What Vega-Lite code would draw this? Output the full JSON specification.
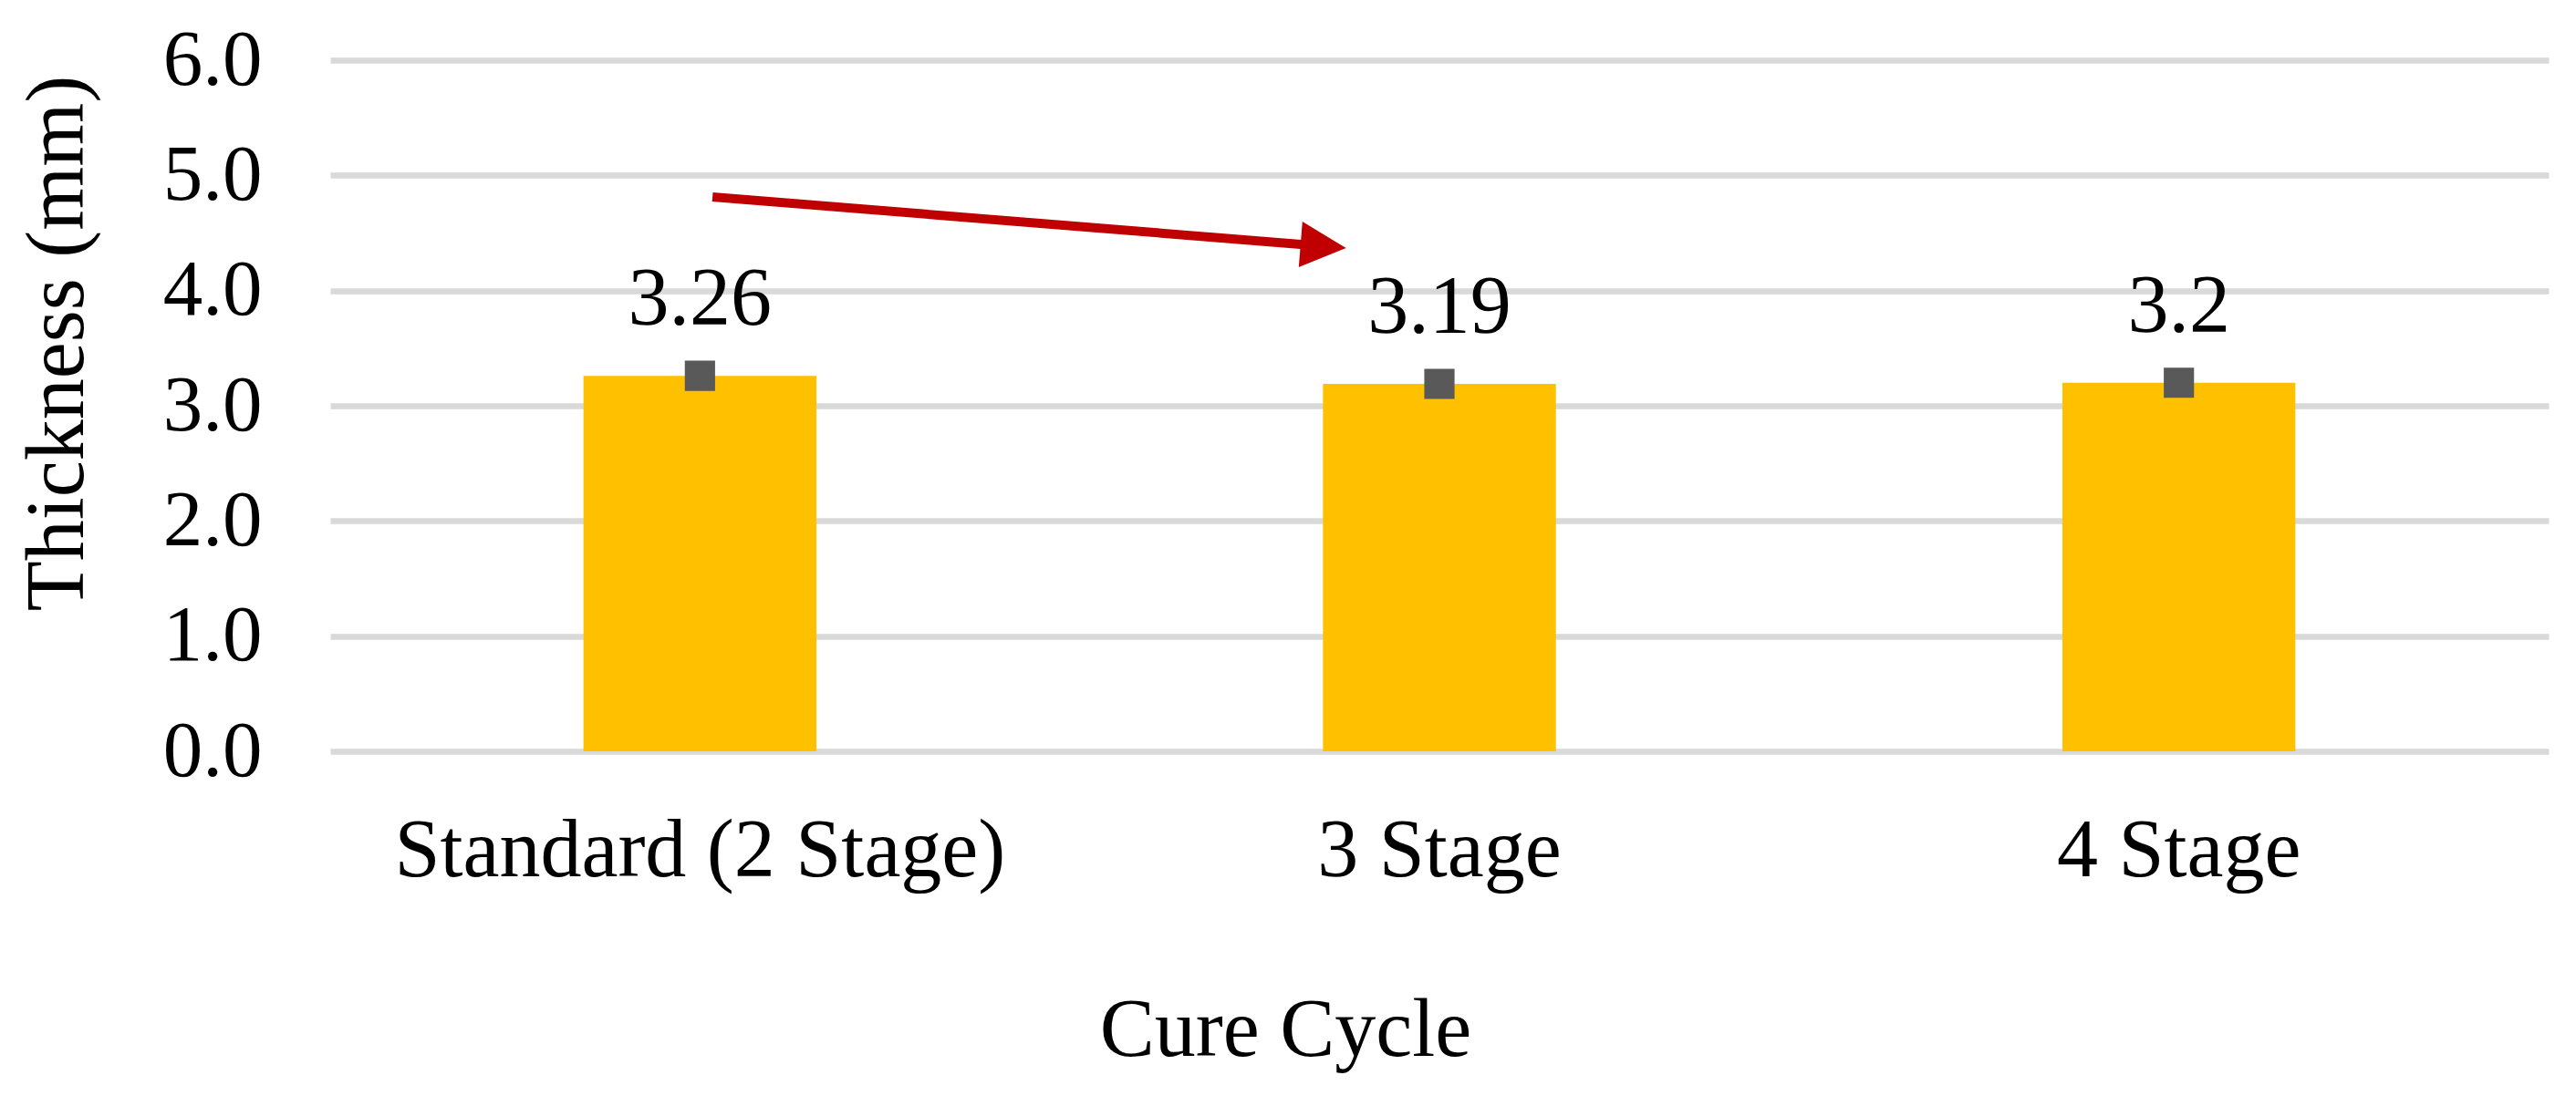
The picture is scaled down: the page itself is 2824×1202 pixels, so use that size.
{
  "$schema": "https://vega.github.io/schema/vega-lite/v6.json",
  "width": 2432,
  "height": 758,
  "autosize": "none",
  "padding": {"left": 362, "top": 66, "right": 30, "bottom": 378},
  "background": "white",
  "config": {"view": {"stroke": null}, "font": "Liberation Serif"},
  "datasets": {
    "bars": [
      {"cycle": "Standard (2 Stage)", "thickness": 3.26},
      {"cycle": "3 Stage", "thickness": 3.19},
      {"cycle": "4 Stage", "thickness": 3.2}
    ],
    "arrow": [
      {"ax": 0.517, "ay": 4.813},
      {"ax": 1.343, "ay": 4.385}
    ],
    "head": [
      {"ax": 1.343, "ay": 4.385}
    ]
  },
  "layer": [
    {
      "layer": [
        {
          "data": {"name": "bars"},
          "mark": {"type": "bar", "color": "#FFC000"},
          "encoding": {
            "x": {
              "field": "cycle", "type": "nominal", "sort": null,
              "scale": {"paddingInner": 0.685, "paddingOuter": 0.3425},
              "axis": {
                "title": "Cure Cycle", "labelAngle": 0, "ticks": false, "domain": false, "grid": false, "labelLimit": 0,
                "labelFont": "Liberation Serif", "labelFontSize": 90, "labelColor": "black", "labelPadding": 65,
                "titleFont": "Liberation Serif", "titleFontSize": 90, "titleFontWeight": "normal", "titleColor": "black",
                "titleBaseline": "alphabetic", "titleY": 333, "titleX": 1047, "titleAlign": "center"
              }
            },
            "y": {
              "field": "thickness", "type": "quantitative", "title": "Thickness (mm)",
              "scale": {"domain": [0, 6], "nice": false},
              "axis": {
                "values": [0, 1, 2, 3, 4, 5, 6], "format": ".1f",
                "grid": true, "gridColor": "#D9D9D9", "gridWidth": 6.5, "domain": false, "ticks": false, "labelLimit": 0,
                "labelFont": "Liberation Serif", "labelFontSize": 87, "labelColor": "black", "labelPadding": 75,
                "titleFont": "Liberation Serif", "titleFontSize": 90, "titleFontWeight": "normal", "titleColor": "black",
                "titleX": -253, "titleY": 310, "titleBaseline": "bottom", "titleAngle": 270, "titleAlign": "center"
              }
            }
          }
        },
        {
          "data": {"name": "bars"},
          "mark": {"type": "point", "shape": "square", "filled": true, "color": "#595959", "opacity": 1, "size": 1100},
          "encoding": {
            "x": {"field": "cycle", "type": "nominal", "sort": null},
            "y": {"field": "thickness", "type": "quantitative", "title": "Thickness (mm)"}
          }
        },
        {
          "data": {"name": "bars"},
          "mark": {"type": "text", "font": "Liberation Serif", "fontSize": 90, "color": "black", "baseline": "alphabetic", "align": "center", "dy": -56},
          "encoding": {
            "x": {"field": "cycle", "type": "nominal", "sort": null},
            "y": {"field": "thickness", "type": "quantitative", "title": "Thickness (mm)"},
            "text": {"field": "thickness", "type": "quantitative"}
          }
        }
      ]
    },
    {
      "layer": [
        {
          "data": {"name": "arrow"},
          "mark": {"type": "line", "color": "#C00000", "strokeWidth": 10, "strokeCap": "butt"},
          "encoding": {
            "x": {"field": "ax", "type": "quantitative", "scale": {"domain": [0, 3], "nice": false, "zero": false}, "axis": null},
            "y": {"field": "ay", "type": "quantitative", "title": "Thickness (mm)"}
          }
        },
        {
          "data": {"name": "head"},
          "mark": {"type": "point", "shape": "M-1,-1L1,0L-1,1Z", "filled": true, "color": "#C00000", "opacity": 1, "size": 2500, "angle": 4.6, "strokeWidth": 0},
          "encoding": {
            "x": {"field": "ax", "type": "quantitative", "axis": null},
            "y": {"field": "ay", "type": "quantitative", "title": "Thickness (mm)"}
          }
        }
      ]
    }
  ],
  "resolve": {"scale": {"x": "independent"}, "axis": {"x": "independent"}}
}
